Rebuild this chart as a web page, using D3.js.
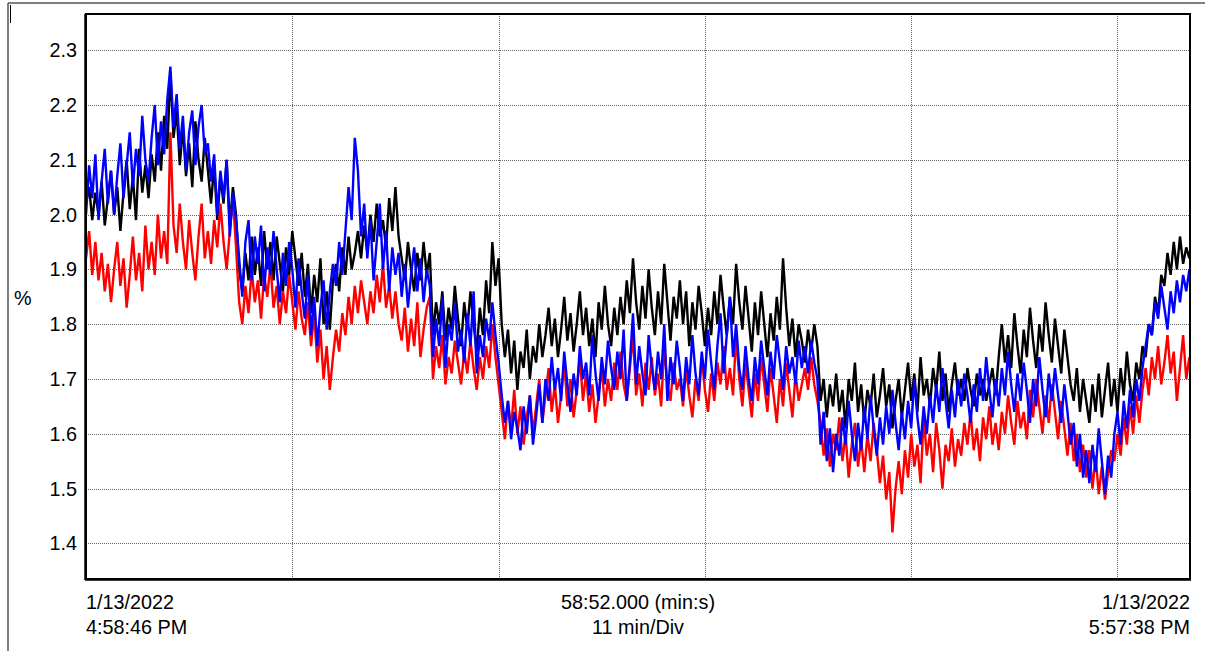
<!DOCTYPE html>
<html lang="en">
  <head>
    <meta charset="UTF-8">
    <title>Trend 1/13/2022</title>
    <script src="https://d3js.org/d3.v7.min.js"></script>
    <style>
      body { margin: 0; background: #fff; }
      text { font-family: "Liberation Sans", Arial, sans-serif; font-size: 19.8px; fill: #000; }
    </style>
  </head>
  <body>
    <svg id="svg-1" width="1205" height="651"></svg>
  <script>
    // samples every 10 s from 4:58:46 PM
    var step = 10;
    var span = 3532;      // 58:52.000
    var division = 660;   // 11 min/Div

    var yTicks = [1.4, 1.5, 1.6, 1.7, 1.8, 1.9, 2.0, 2.1, 2.2, 2.3];

    var blackSeries = [
      2.02,2.05,1.99,2.04,2.00,2.06,1.98,2.03,2.08,2.00,
      2.05,1.97,2.04,2.10,2.01,2.07,1.99,2.12,2.04,2.09,
      2.03,2.11,2.06,2.15,2.08,2.18,2.12,2.26,2.14,2.19,
      2.09,2.16,2.07,2.13,2.05,2.17,2.10,2.06,2.14,2.08,
      2.02,2.09,1.99,2.07,2.02,2.10,1.98,2.05,2.00,1.90,
      1.86,1.93,1.88,1.96,1.89,1.94,1.87,1.97,1.90,1.95,
      1.88,1.96,1.91,1.86,1.94,1.89,1.97,1.92,1.87,1.93,
      1.85,1.91,1.82,1.89,1.84,1.92,1.80,1.86,1.79,1.88,
      1.91,1.86,1.94,1.89,1.96,1.90,1.93,1.97,1.92,1.98,
      1.93,2.00,1.95,2.02,1.96,1.99,1.94,2.03,1.97,2.05,
      1.96,1.92,1.88,1.95,1.90,1.86,1.93,1.88,1.95,1.89,
      1.93,1.78,1.84,1.80,1.86,1.77,1.83,1.79,1.87,1.81,
      1.76,1.84,1.79,1.86,1.80,1.75,1.83,1.78,1.88,1.82,
      1.95,1.87,1.92,1.80,1.74,1.79,1.71,1.77,1.68,1.75,
      1.72,1.79,1.70,1.76,1.73,1.80,1.74,1.78,1.83,1.76,
      1.81,1.74,1.79,1.85,1.77,1.82,1.75,1.80,1.86,1.78,
      1.83,1.76,1.81,1.74,1.84,1.79,1.87,1.80,1.76,1.83,
      1.78,1.85,1.80,1.88,1.82,1.92,1.84,1.79,1.87,1.81,
      1.90,1.83,1.78,1.86,1.80,1.91,1.84,1.77,1.85,1.81,
      1.88,1.80,1.86,1.76,1.84,1.79,1.87,1.82,1.76,1.83,
      1.78,1.86,1.80,1.89,1.83,1.78,1.85,1.80,1.91,1.84,
      1.79,1.87,1.81,1.75,1.84,1.78,1.86,1.80,1.74,1.82,
      1.77,1.85,1.79,1.92,1.83,1.76,1.81,1.74,1.80,1.77,
      1.73,1.79,1.75,1.80,1.76,1.66,1.70,1.63,1.69,1.65,
      1.71,1.64,1.68,1.61,1.70,1.66,1.73,1.64,1.69,1.62,
      1.68,1.65,1.71,1.63,1.67,1.72,1.65,1.69,1.61,1.66,
      1.70,1.63,1.68,1.73,1.66,1.71,1.64,1.74,1.67,1.70,
      1.65,1.72,1.68,1.75,1.66,1.71,1.64,1.69,1.73,1.67,
      1.70,1.66,1.72,1.68,1.65,1.71,1.67,1.70,1.66,1.69,
      1.72,1.67,1.74,1.80,1.73,1.78,1.72,1.82,1.76,1.71,
      1.79,1.74,1.83,1.77,1.72,1.80,1.75,1.84,1.78,1.73,
      1.81,1.76,1.71,1.79,1.74,1.69,1.66,1.72,1.64,1.70,
      1.66,1.62,1.69,1.64,1.71,1.63,1.68,1.73,1.65,1.70,
      1.64,1.72,1.67,1.75,1.69,1.66,1.73,1.70,1.76,1.74,
      1.80,1.78,1.85,1.82,1.89,1.87,1.93,1.89,1.95,1.90,
      1.96,1.91,1.94,1.92
    ];

    var redSeries = [
      1.92,1.97,1.89,1.95,1.88,1.93,1.86,1.91,1.84,1.90,
      1.95,1.87,1.92,1.83,1.89,1.96,1.88,1.93,1.86,1.98,
      1.90,1.95,1.89,2.00,1.92,1.97,1.91,2.15,1.98,1.93,
      2.02,1.95,1.90,1.99,1.93,1.88,1.96,2.02,1.92,1.97,
      1.91,1.99,1.94,2.02,1.95,1.90,1.97,2.03,1.94,1.84,
      1.80,1.87,1.82,1.90,1.84,1.88,1.81,1.89,1.85,1.91,
      1.83,1.87,1.80,1.86,1.82,1.89,1.84,1.79,1.86,1.81,
      1.78,1.84,1.76,1.82,1.73,1.79,1.70,1.76,1.68,1.74,
      1.79,1.75,1.82,1.78,1.85,1.80,1.87,1.82,1.88,1.84,
      1.80,1.86,1.82,1.89,1.84,1.91,1.83,1.87,1.81,1.86,
      1.80,1.77,1.83,1.75,1.81,1.76,1.84,1.74,1.79,1.83,
      1.85,1.70,1.76,1.72,1.78,1.69,1.74,1.71,1.77,1.73,
      1.69,1.75,1.71,1.77,1.72,1.68,1.74,1.70,1.76,1.72,
      1.80,1.74,1.69,1.64,1.59,1.66,1.61,1.68,1.60,1.65,
      1.58,1.63,1.67,1.60,1.65,1.70,1.62,1.67,1.72,1.64,
      1.69,1.62,1.67,1.73,1.65,1.70,1.63,1.68,1.74,1.66,
      1.71,1.64,1.69,1.62,1.67,1.72,1.65,1.70,1.66,1.73,
      1.68,1.75,1.69,1.66,1.72,1.78,1.67,1.71,1.65,1.73,
      1.68,1.74,1.67,1.71,1.65,1.76,1.69,1.66,1.73,1.68,
      1.70,1.65,1.72,1.67,1.63,1.70,1.66,1.74,1.68,1.64,
      1.71,1.66,1.73,1.69,1.76,1.68,1.72,1.67,1.78,1.70,
      1.65,1.73,1.68,1.63,1.71,1.66,1.74,1.69,1.64,1.72,
      1.67,1.62,1.70,1.65,1.73,1.68,1.63,1.71,1.66,1.69,
      1.72,1.68,1.74,1.69,1.66,1.62,1.56,1.61,1.54,1.60,
      1.57,1.63,1.55,1.60,1.52,1.58,1.62,1.54,1.59,1.53,
      1.60,1.55,1.62,1.57,1.51,1.56,1.48,1.53,1.42,1.50,
      1.55,1.49,1.57,1.52,1.60,1.54,1.58,1.51,1.63,1.56,
      1.60,1.53,1.62,1.57,1.50,1.58,1.55,1.61,1.54,1.59,
      1.56,1.62,1.58,1.64,1.57,1.61,1.55,1.63,1.59,1.65,
      1.58,1.62,1.57,1.64,1.60,1.67,1.62,1.58,1.66,1.61,
      1.64,1.59,1.68,1.63,1.70,1.65,1.60,1.67,1.62,1.69,
      1.64,1.59,1.66,1.61,1.56,1.62,1.55,1.60,1.53,1.58,
      1.52,1.57,1.50,1.56,1.49,1.54,1.48,1.53,1.57,1.55,
      1.60,1.56,1.63,1.58,1.65,1.60,1.67,1.62,1.68,1.72,
      1.67,1.74,1.70,1.76,1.69,1.73,1.78,1.71,1.75,1.66,
      1.72,1.78,1.70,1.74
    ];

    var blueSeries = [
      2.00,2.09,2.03,2.11,1.99,2.06,2.12,2.02,2.08,2.00,
      2.07,2.13,2.03,2.09,2.15,2.05,2.12,2.07,2.18,2.10,
      2.06,2.14,2.20,2.09,2.17,2.11,2.21,2.27,2.16,2.22,
      2.12,2.18,2.08,2.15,2.19,2.09,2.16,2.20,2.11,2.13,
      2.06,2.11,2.00,2.08,2.03,2.10,1.96,2.04,1.99,1.92,
      1.85,1.95,1.99,1.88,1.96,1.91,1.98,1.86,1.94,1.89,
      1.97,1.90,1.84,1.93,1.87,1.95,1.90,1.83,1.92,1.86,
      1.81,1.89,1.78,1.85,1.76,1.83,1.88,1.79,1.86,1.91,
      1.87,1.95,1.89,1.97,2.05,1.99,2.14,2.08,1.96,2.02,
      1.92,1.99,1.88,1.95,2.02,1.90,1.97,1.86,1.94,1.89,
      1.93,1.85,1.91,1.83,1.89,1.94,1.86,1.92,1.84,1.90,
      1.87,1.74,1.81,1.76,1.85,1.72,1.80,1.77,1.84,1.75,
      1.79,1.73,1.82,1.76,1.86,1.71,1.78,1.74,1.81,1.77,
      1.84,1.78,1.73,1.67,1.62,1.66,1.59,1.64,1.61,1.57,
      1.65,1.60,1.67,1.58,1.63,1.69,1.62,1.70,1.66,1.74,
      1.68,1.72,1.66,1.75,1.69,1.64,1.71,1.67,1.76,1.70,
      1.73,1.67,1.78,1.71,1.66,1.74,1.69,1.77,1.72,1.68,
      1.75,1.70,1.79,1.66,1.73,1.82,1.69,1.76,1.71,1.67,
      1.78,1.72,1.68,1.75,1.70,1.80,1.66,1.74,1.69,1.77,
      1.72,1.66,1.74,1.69,1.78,1.71,1.67,1.75,1.70,1.79,
      1.73,1.68,1.76,1.82,1.71,1.78,1.85,1.74,1.80,1.72,
      1.68,1.76,1.70,1.66,1.74,1.69,1.77,1.72,1.67,1.75,
      1.70,1.78,1.73,1.68,1.76,1.71,1.74,1.69,1.77,1.72,
      1.76,1.71,1.77,1.73,1.70,1.58,1.64,1.55,1.61,1.53,
      1.60,1.56,1.63,1.58,1.66,1.60,1.55,1.62,1.57,1.65,
      1.59,1.67,1.61,1.56,1.63,1.58,1.65,1.60,1.68,1.62,
      1.57,1.64,1.59,1.66,1.61,1.70,1.63,1.58,1.65,1.60,
      1.67,1.62,1.69,1.64,1.72,1.66,1.61,1.68,1.63,1.70,
      1.65,1.71,1.67,1.62,1.69,1.64,1.72,1.66,1.74,1.68,
      1.63,1.70,1.65,1.72,1.67,1.75,1.69,1.64,1.71,1.66,
      1.73,1.68,1.62,1.70,1.65,1.74,1.68,1.63,1.71,1.66,
      1.72,1.67,1.62,1.69,1.64,1.58,1.62,1.54,1.60,1.52,
      1.57,1.51,1.58,1.53,1.61,1.55,1.49,1.56,1.52,1.60,
      1.64,1.58,1.66,1.61,1.68,1.63,1.70,1.66,1.72,1.76,
      1.80,1.78,1.84,1.81,1.87,1.83,1.79,1.86,1.82,1.88,
      1.84,1.89,1.86,1.90
    ];

    var svg = d3.select("#svg-1");

    // plot box
    var plotL = 86, plotT = 14, plotR = 1190, plotB = 579;

    var x = d3.scaleLinear().domain([0, span]).range([plotL, plotR]);
    var y = d3.scaleLinear().domain([1.335, 2.366]).range([plotB, plotT]);

    // outer frame of the window
    svg.append("line").attr("x1", 8).attr("y1", 3).attr("x2", 1205).attr("y2", 3)
      .attr("stroke", "#555").attr("stroke-width", 1.5);
    svg.append("line").attr("x1", 8).attr("y1", 3).attr("x2", 8).attr("y2", 651)
      .attr("stroke", "#555").attr("stroke-width", 1.5);
    svg.append("line").attr("x1", 10.5).attr("y1", 5).attr("x2", 10.5).attr("y2", 23)
      .attr("stroke", "#000").attr("stroke-width", 1);

    // grid
    var grid = svg.append("g");
    grid.selectAll(".hgrid")
      .data(yTicks)
      .enter()
      .append("line")
      .attr("x1", plotL).attr("x2", plotR)
      .attr("y1", function(d) { return Math.round(y(d)) + 0.5; })
      .attr("y2", function(d) { return Math.round(y(d)) + 0.5; })
      .attr("stroke", "#666").attr("stroke-dasharray", "1,1");

    var vTimes = d3.range(division, span, division);
    grid.selectAll(".vgrid")
      .data(vTimes)
      .enter()
      .append("line")
      .attr("y1", plotT).attr("y2", plotB)
      .attr("x1", function(d) { return Math.round(x(d)) + 0.5; })
      .attr("x2", function(d) { return Math.round(x(d)) + 0.5; })
      .attr("stroke", "#666").attr("stroke-dasharray", "1,1");

    // series
    var line = d3.line()
      .x(function(d, i) { return x(i * step); })
      .y(function(d) { return y(d); });

    var plot = svg.append("g");
    [[blackSeries, "#000000"], [redSeries, "#ff0000"], [blueSeries, "#0000ff"]].forEach(function(s) {
      plot.append("path")
        .datum(s[0])
        .attr("fill", "none")
        .attr("stroke", s[1])
        .attr("stroke-width", 2.4)
        .attr("d", line);
    });

    // frame
    svg.append("rect")
      .attr("x", plotL).attr("y", plotT)
      .attr("width", plotR - plotL).attr("height", plotB - plotT)
      .attr("fill", "none").attr("stroke", "#000").attr("stroke-width", 2);
    svg.append("line").attr("x1", plotL - 1).attr("y1", plotT).attr("x2", plotL - 1).attr("y2", plotB + 1)
      .attr("stroke", "#000").attr("stroke-width", 1.5);
    svg.append("line").attr("x1", plotL - 1).attr("y1", plotB + 1).attr("x2", plotR + 1).attr("y2", plotB + 1)
      .attr("stroke", "#000").attr("stroke-width", 1.5);

    // y labels
    svg.selectAll(".ylab")
      .data(yTicks)
      .enter()
      .append("text")
      .attr("x", 77)
      .attr("y", function(d) { return y(d) + 7; })
      .attr("text-anchor", "end")
      .text(function(d) { return d.toFixed(1); });

    svg.append("text").attr("x", 14).attr("y", 305).text("%");

    // time labels
    svg.append("text").attr("x", plotL).attr("y", 609).text("1/13/2022");
    svg.append("text").attr("x", plotL).attr("y", 634).text("4:58:46 PM");
    svg.append("text").attr("x", (plotL + plotR) / 2).attr("y", 609).attr("text-anchor", "middle").text("58:52.000 (min:s)");
    svg.append("text").attr("x", (plotL + plotR) / 2).attr("y", 634).attr("text-anchor", "middle").text("11 min/Div");
    svg.append("text").attr("x", plotR).attr("y", 609).attr("text-anchor", "end").text("1/13/2022");
    svg.append("text").attr("x", plotR).attr("y", 634).attr("text-anchor", "end").text("5:57:38 PM");
  </script>
  </body>
</html>
